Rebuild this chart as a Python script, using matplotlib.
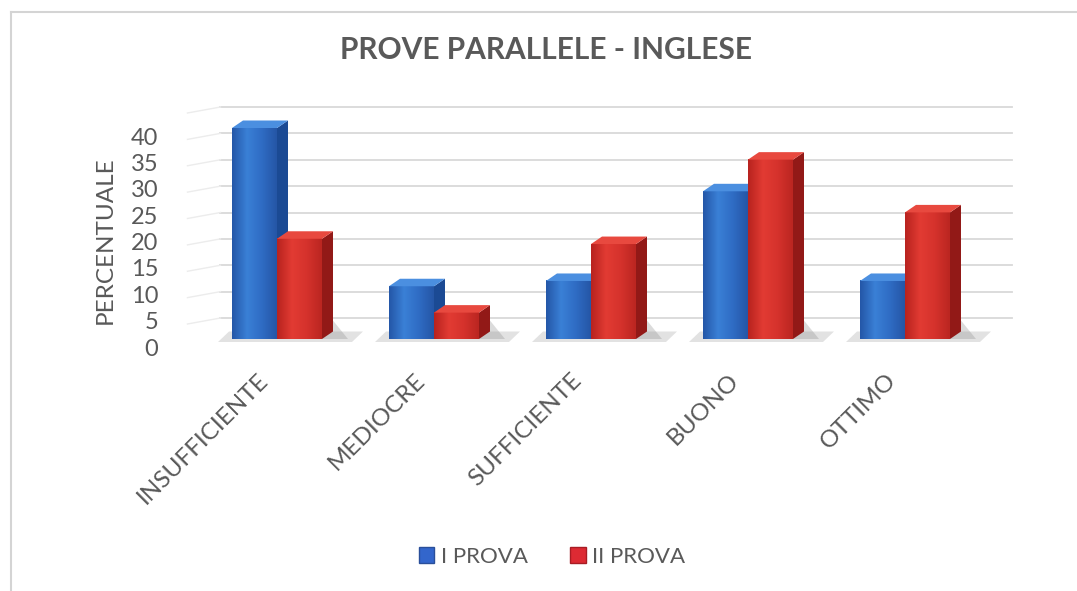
import matplotlib
matplotlib.use("Agg")
import matplotlib.pyplot as plt
import numpy as np
from matplotlib.patches import Polygon, Patch
from matplotlib.colors import LinearSegmentedColormap
from matplotlib.transforms import offset_copy, ScaledTranslation
from matplotlib.lines import Line2D

# ---- data ----
categories = ["INSUFFICIENTE", "MEDIOCRE", "SUFFICIENTE", "BUONO", "OTTIMO"]
series_names = ["I PROVA", "II PROVA"]
prova1 = [40, 10, 11, 28, 11]
prova2 = [19, 5, 18, 34, 24]
yticks = [0, 5, 10, 15, 20, 25, 30, 35, 40]
title = "PROVE PARALLELE - INGLESE"
ylabel = "PERCENTUALE"

# ---- style ----
plt.rcParams['font.family'] = ['Lato', 'DejaVu Sans']
TXT = "#595959"
W, H, DPI = 1077, 591, 100
fig = plt.figure(figsize=(W / DPI, H / DPI), dpi=DPI)
fig.patch.set_facecolor("white")

def px_to_fig(x, y):
    return x / W, 1 - y / H

# axes placement (pixels)
left_px, right_px = 198.5, 983.5
base_px, top_px = 339.0, 128.0
ax = fig.add_axes([left_px / W, 1 - base_px / H, (right_px - left_px) / W, (base_px - top_px) / H])
ax.set_xlim(-0.5, 4.5)
ax.set_ylim(0, 40)
ax.set_facecolor("none")
for s in ax.spines.values():
    s.set_visible(False)

# px -> data unit factors
ux = 5.0 / (right_px - left_px)
uy = 40.0 / (base_px - top_px)
depth_dx = 11 * ux
depth_dy = 7.5 * uy

# back-wall gridlines (offset up)
grid_tr = offset_copy(ax.transData, fig=fig, x=0, y=21, units='dots')
for v in yticks:
    ax.plot([-0.36, 4.68], [v, v], color="#d9d9d9", lw=1.3, transform=grid_tr, zorder=0, clip_on=False)
    ax.plot([-0.36 - 33 * ux, -0.36], [v - 6 * uy, v], color="#ececec", lw=1.0,
            transform=grid_tr, zorder=0, clip_on=False)

x = np.arange(len(categories))
bw = 45 * ux

blue = dict(front=["#2457a8", "#3a80d6", "#2f6cc4", "#2556a6"], side="#1b4a94", top="#4b8fe0")
red = dict(front=["#b8231f", "#e23b33", "#d5322c", "#bb2621"], side="#921917", top="#e8493f")

def draw_bar(xc, h, sty, z):
    x0, x1 = xc - bw / 2, xc + bw / 2
    bars = ax.bar([xc], [h], width=bw, color=sty["front"][2], zorder=z, linewidth=0, clip_on=False)
    rect = bars.patches[0]
    cmap = LinearSegmentedColormap.from_list("g", sty["front"])
    grad = np.linspace(0, 1, 64).reshape(1, -1)
    im = ax.imshow(grad, extent=[x0, x1, 0, h], cmap=cmap, aspect='auto', zorder=z + 0.1,
                   interpolation='bicubic', clip_on=False)
    im.set_clip_path(rect)
    side = Polygon([(x1, 0), (x1 + depth_dx, depth_dy), (x1 + depth_dx, h + depth_dy), (x1, h)],
                   closed=True, facecolor=sty["side"], edgecolor="none", zorder=z + 0.2, clip_on=False)
    top = Polygon([(x0, h), (x0 + depth_dx, h + depth_dy), (x1 + depth_dx, h + depth_dy), (x1, h)],
                  closed=True, facecolor=sty["top"], edgecolor="none", zorder=z + 0.2, clip_on=False)
    ax.add_patch(side)
    ax.add_patch(top)

for i, xc in enumerate(x):
    gl = xc - bw
    gr = xc + bw
    sh = Polygon([(gl - 14 * ux, -3 * uy), (gr + 30 * ux, -3 * uy),
                  (gr + 30 * ux + depth_dx, depth_dy), (gl - 14 * ux + depth_dx, depth_dy)],
                 closed=True, facecolor="#a0a0a0", alpha=0.3, edgecolor="none", zorder=1, clip_on=False)
    ax.add_patch(sh)
    sh2 = Polygon([(gr, 0), (gr + 26 * ux, 0), (gr + depth_dx, 3.5)],
                  closed=True, facecolor="#8a8a8a", alpha=0.3, edgecolor="none", zorder=1, clip_on=False)
    ax.add_patch(sh2)
    draw_bar(xc - bw / 2, prova1[i], blue, 2 + i)
    draw_bar(xc + bw / 2, prova2[i], red, 2.5 + i)

ax.set_xlim(-0.5, 4.5)
ax.set_ylim(0, 40)

# y ticks (front axis)
ax.set_yticks(yticks)
ax.set_yticklabels([str(v) for v in yticks], fontsize=17, color=TXT)
ax.tick_params(axis='y', length=0, pad=29)
for lab in ax.get_yticklabels():
    lab.set_transform(lab.get_transform() + ScaledTranslation(0, -8 / DPI, fig.dpi_scale_trans))

# x tick labels
ax.set_xticks(x)
ax.set_xticklabels(categories, rotation=45, ha='right', va='top', fontsize=17.5, color=TXT)
ax.tick_params(axis='x', length=0, pad=22)
for lab in ax.get_xticklabels():
    lab.set_transform(lab.get_transform() + ScaledTranslation(-5 / DPI, 0, fig.dpi_scale_trans))

# y label
fx, fy = px_to_fig(105, 240)
fig.text(fx, fy, ylabel, rotation=90, ha='center', va='center', fontsize=17.5, color=TXT)

# title
fx, fy = px_to_fig(546, 50)
fig.text(fx, fy, title, ha='center', va='center', fontsize=21.5, fontweight='bold', color=TXT)

# legend
handles = [Patch(facecolor="#3366cc", edgecolor="#2a4f9a", label=series_names[0]),
           Patch(facecolor="#dd2a33", edgecolor="#a81c24", label=series_names[1])]
fx, fy = px_to_fig(552, 557)
fig.legend(handles=handles, loc='center', bbox_to_anchor=(fx, fy), ncol=2, frameon=False,
           fontsize=16, labelcolor=TXT, handlelength=0.7, handleheight=0.7,
           handletextpad=0.3, columnspacing=1.9)

# chart border (left & top)
fig.add_artist(Line2D([11 / W, 11 / W], [0, 1 - 12 / H], color="#d4d4d4", lw=1.5))
fig.add_artist(Line2D([11 / W, 1], [1 - 12 / H, 1 - 12 / H], color="#d4d4d4", lw=1.5))

fig.savefig("out.png", dpi=DPI, facecolor="white")
